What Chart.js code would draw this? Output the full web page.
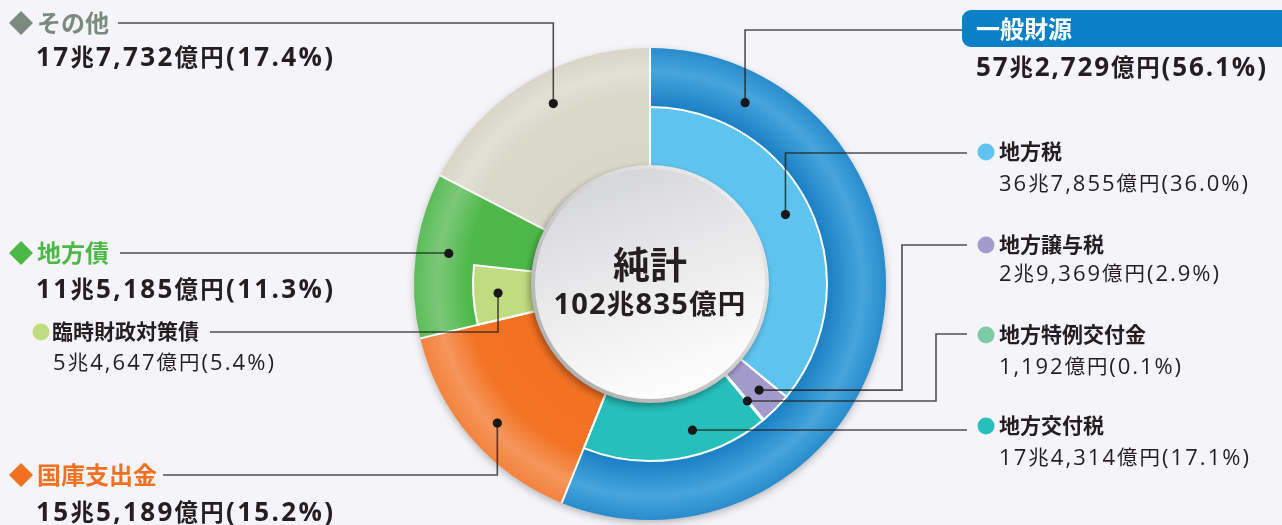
<!DOCTYPE html>
<html><head><meta charset="utf-8">
<script src="https://cdn.jsdelivr.net/npm/chart.js@4.4.1/dist/chart.umd.min.js"></script>
<style>
html,body{margin:0;padding:0;background:#f5f5f9;}
#wrap{position:relative;width:1282px;height:525px;overflow:hidden;font-family:"Open Sans","Noto Sans CJK JP",sans-serif;color:#231f20;}
#c{position:absolute;left:0;top:0;}
.t{position:absolute;white-space:nowrap;line-height:1;}
.h{font-family:"Noto Sans CJK JP",sans-serif;}
.k{font-family:"Noto Sans CJK JP",sans-serif;}
.dia{position:absolute;width:17px;height:17px;transform:translate(-50%,-50%) rotate(45deg);}
.bul{position:absolute;border-radius:50%;transform:translate(-50%,-50%);}
</style></head><body>
<div id="wrap"><canvas id="c" width="1282" height="525"></canvas></div>
<script>
// ---- data ----
const outerLabels = ['一般財源','国庫支出金','地方債','その他'];
const outerValues = [56.1, 15.2, 11.3, 17.4];
const outerAmounts = ['57兆2,729億円','15兆5,189億円','11兆5,185億円','17兆7,732億円'];
const innerLabels = ['地方税','地方譲与税','地方特例交付金','地方交付税','国庫支出金','臨時財政対策債','地方債','その他'];
const innerValues = [36.0, 2.9, 0.1, 17.1, 15.2, 5.4, 5.9, 17.4];
const innerAmounts = ['36兆7,855億円','2兆9,369億円','1,192億円','17兆4,314億円','15兆5,189億円','5兆4,647億円','',''];
const totalTitle = '純計';
const totalAmount = '102兆835億円';

// ---- styles ----
const outerColors = ['#1f86c9','#f37021','#4cb848','#d9d7c8'];
const innerColors = ['#5ec4ef','#a39bcb','#7dcaa7','#26bfbc','#f37021','#c0dc80','#4cb848','#d9d7c8'];
const innerSub = [true,true,true,true,false,true,false,false];
const gradStops = {
  '#1f86c9': [[0,'#1a7fc4'],[0.5,'#1a7fc4'],[0.8,'#46a5db'],[0.9,'#3799d4'],[1,'#2a8bcd']],
  '#f37021': [[0,'#f37021'],[0.55,'#f37324'],[0.8,'#f5965c'],[1,'#f4833d']],
  '#4cb848': [[0,'#4cb848'],[0.55,'#4eb94a'],[0.8,'#7cc879'],[1,'#5bbd57']],
  '#d9d7c8': [[0,'#d9d7c8'],[0.6,'#dad8c9'],[0.8,'#e2e0d4'],[1,'#d8d6c7']]
};
const R = 236;
function bg(chart, color, flat){
  const a = chart.chartArea;
  if (!a || flat || !gradStops[color]) return color;
  const cx=(a.left+a.right)/2, cy=(a.top+a.bottom)/2;
  const g = chart.ctx.createRadialGradient(cx,cy,R*0.5,cx,cy,R);
  gradStops[color].forEach(s=>g.addColorStop(s[0],s[1]));
  return g;
}

// leader annotations: ds, idx, f (position along arc), rf (position across ring)
const leaders = [
  {ds:0, idx:3, f:0.55, rf:0.47, mode:'v', y:23,  endX:118},
  {ds:0, idx:0, f:0.137,rf:0.47, mode:'v', y:30,  endX:962},
  {ds:1, idx:0, f:0.485,rf:0.58, mode:'v', y:153, endX:967},
  {ds:1, idx:1, f:0.44, rf:0.58, mode:'h', ex:902, y:245, endX:967},
  {ds:1, idx:2, f:0.5,  rf:0.58, mode:'h', ex:936, y:334, endX:967},
  {ds:1, idx:3, f:0.38, rf:0.58, mode:'v', y:430, endX:967},
  {ds:0, idx:1, f:0.47, rf:0.5,  mode:'v', y:475, endX:163},
  {ds:0, idx:2, f:0.54, rf:0.45, mode:'v', y:253, endX:120},
  {ds:1, idx:5, f:0.51, rf:0.58, mode:'v', y:332, endX:210}
];

const decor = {
  id:'decor',
  beforeDatasetsDraw(chart){
    const ctx=chart.ctx; const el=chart.getDatasetMeta(0).data[0];
    ctx.save();
    ctx.shadowColor='rgba(0,0,0,0.3)'; ctx.shadowBlur=8; ctx.shadowOffsetY=3;
    ctx.beginPath(); ctx.arc(el.x,el.y,el.outerRadius-1,0,Math.PI*2);
    ctx.fillStyle='#2488cb'; ctx.fill();
    ctx.restore();
  },
  afterDatasetsDraw(chart){
    const ctx=chart.ctx;
    const m0=chart.getDatasetMeta(0).data, m1=chart.getDatasetMeta(1).data;
    const cx=m0[0].x, cy=m0[0].y, rIn=m1[0].innerRadius;
    ctx.save();
    ctx.lineWidth=3;
    m1.forEach((el,i)=>{
      if(innerSub[i]) return;
      ctx.strokeStyle=bg(chart, innerColors[i], false);
      ctx.beginPath(); ctx.arc(cx,cy,el.outerRadius,el.startAngle,el.endAngle); ctx.stroke();
    });
    ctx.restore();
    ctx.save();
    ctx.strokeStyle='#ffffff'; ctx.lineWidth=2; ctx.lineCap='butt';
    m0.forEach(el=>{
      const a=el.startAngle;
      ctx.beginPath();
      ctx.moveTo(cx+rIn*Math.cos(a), cy+rIn*Math.sin(a));
      ctx.lineTo(cx+el.outerRadius*Math.cos(a), cy+el.outerRadius*Math.sin(a));
      ctx.stroke();
    });
    m1.forEach((el,i)=>{
      if(!innerSub[i]) return;
      ctx.beginPath();
      ctx.moveTo(cx+el.innerRadius*Math.cos(el.startAngle), cy+el.innerRadius*Math.sin(el.startAngle));
      ctx.arc(cx,cy,el.outerRadius,el.startAngle,el.endAngle);
      ctx.lineTo(cx+el.innerRadius*Math.cos(el.endAngle), cy+el.innerRadius*Math.sin(el.endAngle));
      ctx.stroke();
    });
    ctx.restore();

    ctx.save();
    ctx.strokeStyle='rgba(35,31,32,0.78)'; ctx.lineWidth=1.6;
    const dots=[];
    leaders.forEach(L=>{
      const el=chart.getDatasetMeta(L.ds).data[L.idx];
      const a=el.startAngle+L.f*(el.endAngle-el.startAngle);
      const r=el.innerRadius+L.rf*(el.outerRadius-el.innerRadius);
      const px=cx+r*Math.cos(a), py=cy+r*Math.sin(a);
      ctx.beginPath(); ctx.moveTo(px,py);
      if(L.mode==='h'){ ctx.lineTo(L.ex,py); ctx.lineTo(L.ex,L.y); }
      else { ctx.lineTo(px,L.y); }
      ctx.lineTo(L.endX,L.y); ctx.stroke();
      dots.push([px,py]);
    });
    ctx.fillStyle='#1a1718';
    dots.forEach(d=>{ctx.beginPath();ctx.arc(d[0],d[1],4.6,0,Math.PI*2);ctx.fill();});
    ctx.restore();

    ctx.save();
    ctx.shadowColor='rgba(0,0,0,0.35)'; ctx.shadowBlur=7; ctx.shadowOffsetX=-2; ctx.shadowOffsetY=3;
    const rim=ctx.createLinearGradient(cx+90,cy-90,cx-90,cy+90);
    rim.addColorStop(0,'#ececec'); rim.addColorStop(1,'#b0b0b0');
    ctx.beginPath(); ctx.arc(cx,cy,rIn+1,0,Math.PI*2); ctx.fillStyle=rim; ctx.fill();
    ctx.restore();
    ctx.save();
    const g=ctx.createLinearGradient(cx-40,cy-115,cx+40,cy+115);
    g.addColorStop(0,'#d5d6d9'); g.addColorStop(0.55,'#eeeeef'); g.addColorStop(1,'#ffffff');
    ctx.beginPath(); ctx.arc(cx,cy,rIn-3,0,Math.PI*2); ctx.fillStyle=g; ctx.fill();
    ctx.restore();
  }
};

new Chart(document.getElementById('c'), {
  type:'doughnut',
  data:{
    labels: innerLabels,
    datasets:[
      {label:'財源', data:outerValues, borderWidth:0,
       backgroundColor:(c)=>bg(c.chart, outerColors[c.dataIndex], false)},
      {label:'内訳', data:innerValues, borderWidth:0,
       backgroundColor:(c)=>bg(c.chart, innerColors[c.dataIndex], innerSub[c.dataIndex])}
    ]
  },
  options:{
    responsive:false, animation:false, events:[],
    radius:R, cutout:'50%',
    layout:{padding:{left:20,right:2,top:45,bottom:2}},
    plugins:{legend:{display:false}, tooltip:{enabled:false}}
  },
  plugins:[decor]
});

// ---- text labels ----
const wrap=document.getElementById('wrap');
const cjk=/[\u3000-\u9fff\uff00-\uffef]/;
function fill(d,txt,kScale){
  if(!kScale){ d.textContent=txt; return; }
  let run='', isK=null;
  const flush=()=>{ if(!run) return; if(isK){const s=document.createElement('span');s.className='k';s.style.fontSize=kScale+'em';s.textContent=run;d.appendChild(s);} else d.appendChild(document.createTextNode(run)); run=''; };
  for(const ch of txt){ const k=cjk.test(ch); if(isK!==null && k!==isK) flush(); isK=k; run+=ch; }
  flush();
}
function addText(txt,x,cy,size,weight,color,target,cls,kScale){
  const d=document.createElement('div'); d.className='t'+(cls?' '+cls:'');
  fill(d,txt,kScale);
  d.style.left=x+'px'; d.style.top=(cy-size*0.5-size*0.05)+'px';
  d.style.fontSize=size+'px'; d.style.fontWeight=weight; d.style.color=color;
  wrap.appendChild(d);
  if(target){
    const w=d.getBoundingClientRect().width, n=[...txt].length;
    d.style.letterSpacing=((target-w)/(n-1)).toFixed(2)+'px';
  }
  return d;
}
function addDia(x,cy,color){const d=document.createElement('div');d.className='dia';d.style.left=x+'px';d.style.top=cy+'px';d.style.background=color;wrap.appendChild(d);}
function addBul(x,cy,dia,color){const d=document.createElement('div');d.className='bul';d.style.left=x+'px';d.style.top=cy+'px';d.style.width=dia+'px';d.style.height=dia+'px';d.style.background=color;wrap.appendChild(d);}
const pct=v=>'('+v.toFixed(1)+'%)';
const dark='#231f20';

const heads=[
  [3, 23, '#7b8a7e', 57],
  [2, 253, '#4cb848', 289],
  [1, 475, '#f37021', 512]
];
heads.forEach(h=>{
  addDia(20.5,h[1],h[2]);
  addText(outerLabels[h[0]],37,h[1],24,700,h[2],0,'h');
  addText(outerAmounts[h[0]]+pct(outerValues[h[0]]),36,h[3],26,700,dark,297,'',0.9);
});
const box=document.createElement('div');
box.style.cssText='position:absolute;left:962px;top:10px;width:340px;height:37px;background:#0a80c6;border-radius:9px 0 0 9px;';
wrap.appendChild(box);
addText(outerLabels[0],976,29,24,700,'#ffffff',0,'h');
addText(outerAmounts[0]+pct(outerValues[0]),976,67,26,700,dark,290,'',0.9);

const subs=[
  [0, 986, 152, 999, 999, 183, 249],
  [1, 986, 245, 999, 999, 273, 220],
  [2, 986, 335, 999, 999, 366, 182],
  [3, 986, 426, 999, 999, 457, 250],
  [5, 41, 332, 52, 53, 362, 221]
];
subs.forEach(s=>{
  addBul(s[1],s[2],17,innerColors[s[0]]);
  addText(innerLabels[s[0]],s[3],s[2],21,700,dark,0,'h');
  addText(innerAmounts[s[0]]+pct(innerValues[s[0]]),s[4],s[5],22,400,dark,s[6],'',0.93);
});

const t1=addText(totalTitle,0,265,37,700,dark,0,'h'); t1.style.left='650px'; t1.style.transform='translateX(-50%)';
const t2=addText(totalAmount,0,304,29,700,dark,192,'',0.95); t2.style.left='650px'; t2.style.transform='translateX(-50%)';
</script>
</body></html>
